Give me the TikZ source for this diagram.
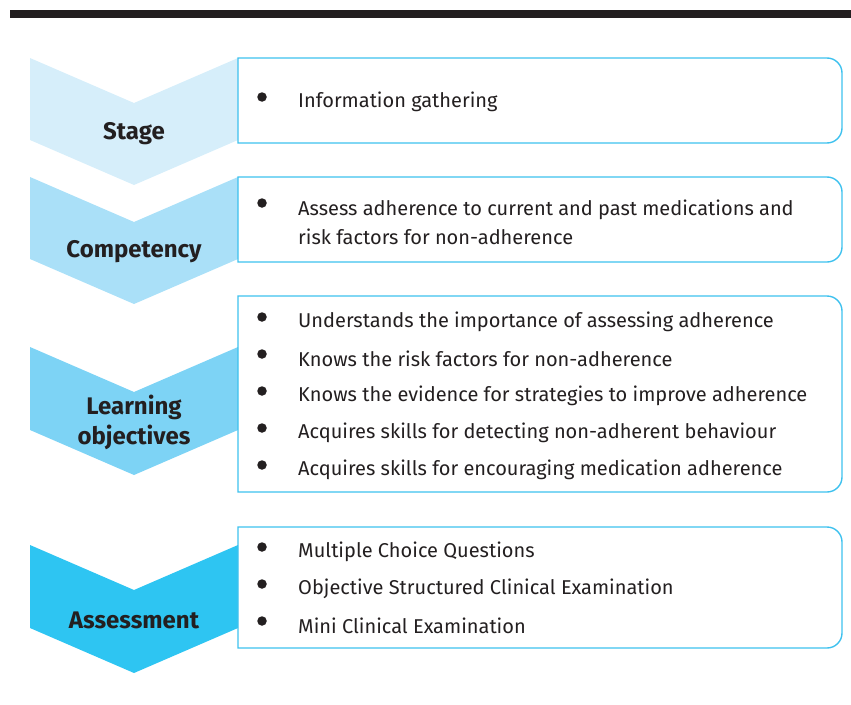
\documentclass[tikz,border=0pt]{standalone}
\usepackage{fontspec}
\setmainfont{Fira Sans}
\usepackage{tikz}
\usetikzlibrary{positioning}
\usepackage{xcolor}

\definecolor{inkgray}{HTML}{231F20}
\definecolor{boxcyan}{HTML}{3EC1EE}
\definecolor{stagefill}{HTML}{D6EEFA}
\definecolor{compfill}{HTML}{AAE0F8}
\definecolor{learnfill}{HTML}{7DD3F5}
\definecolor{assessfill}{HTML}{2EC5F2}

\tikzset{
  phase/.style={font=\bfseries\fontsize{24}{30}\selectfont, text=inkgray, align=center},
  item/.style={anchor=west, inner sep=0pt, font=\fontsize{20}{29}\selectfont, text=inkgray, align=left},
  dot/.style={circle, fill=inkgray, inner sep=0pt, minimum size=9.5pt},
  boxline/.style={draw=boxcyan, line width=1.4pt}
}

% chevron: top y, bottom y, colour
\newcommand{\chevronshape}[3]{%
  \fill[#3] (30,#1) -- (134,#1+45) -- (238,#1) -- (238,#2) -- (134,#2+45) -- (30,#2) -- cycle;}
% box with rounded right corners: top y, bottom y
\newcommand{\itembox}[2]{%
  \draw[boxline] (238,#1) -- (827,#1) arc[start angle=-90, end angle=0, radius=15]
    -- (842,#2-15) arc[start angle=0, end angle=90, radius=15] -- (238,#2) -- cycle;}

\begin{document}
\begin{tikzpicture}[x=1pt, y=-1pt]
  \useasboundingbox (0,0) rectangle (851,704);
  \fill[inkgray] (10,10) rectangle (851,18);

  % stage
  \chevronshape{58}{140}{stagefill}
  \itembox{58}{143}
  \node[phase] (stage) at (134,134) {Stage};
  \node[dot] (sd1) at (262,97) {};
  \node[item] (st1) at (298,102) {Information gathering};

  % competency
  \chevronshape{177}{259}{compfill}
  \itembox{177}{262}
  \node[phase] (comp) at (134,252) {Competency};
  \node[dot] (cd1) at (262,203) {};
  \node[item] (ct1) at (298,222.5) {Assess adherence to current and past medications and\\risk factors for non-adherence};

  % learning objectives
  \chevronshape{347}{430}{learnfill}
  \itembox{296}{492}
  \node[phase] (learn) at (134,422) {Learning\\objectives};
  \foreach \txt [count=\i] in {Understands the importance of assessing adherence,
      Knows the risk factors for non-adherence,
      Knows the evidence for strategies to improve adherence,
      Acquires skills for detecting non-adherent behaviour,
      Acquires skills for encouraging medication adherence} {
    \node[dot] (ld\i) at (262,317+37*\i-37) {};
    \node[item] (lt\i) at (298,322+37*\i-37) {\txt};
  }

  % assessment
  \chevronshape{545}{628}{assessfill}
  \itembox{527}{648}
  \node[phase] (assess) at (134,620) {Assessment};
  \foreach \txt [count=\i] in {Multiple Choice Questions,
      Objective Structured Clinical Examination,
      Mini Clinical Examination} {
    \node[dot] (ad\i) at (262,547+37*\i-37) {};
    \node[item] (at\i) at (298,552+37*\i-37) {\txt};
  }
\end{tikzpicture}
\end{document}
